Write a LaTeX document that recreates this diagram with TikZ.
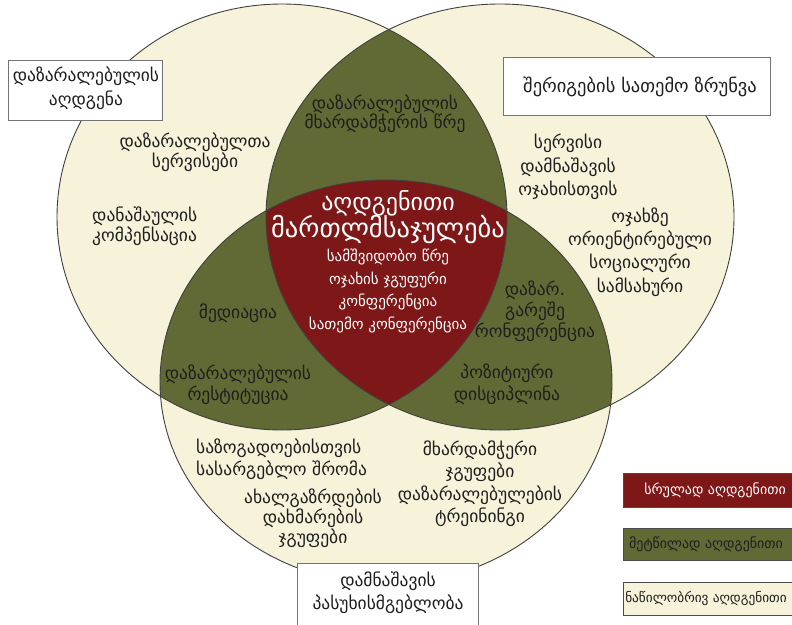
\documentclass[tikz,border=0pt]{standalone}
\usepackage{fontspec}
\setmainfont{DejaVu Sans}
\definecolor{cream}{HTML}{F6F3DA}
\definecolor{olive}{HTML}{616A34}
\definecolor{wine}{HTML}{7E1818}
\definecolor{ink}{HTML}{1E1E1E}
\begin{document}
\begin{tikzpicture}[x=1pt,y=-1pt,
  lbl/.style={font=\fontsize{17.5}{21}\selectfont, text=ink, align=center, inner sep=0pt},
  wlbl/.style={lbl, text=white},
  big/.style={text=white, align=center, inner sep=0pt},
  leg/.style={font=\fontsize{14}{16}\selectfont, inner sep=0pt},
  tbox/.style={draw=black!55, fill=white, line width=1pt},
  legbox/.style={draw=black!70, line width=1pt},
  outline/.style={draw=black!75, line width=0.9pt}]
\useasboundingbox (0,0) rectangle (792,624);
\clip (0,0) rectangle (792,624);
\fill[white] (0,0) rectangle (792,624);
% regions
\fill[cream] (282,217) ellipse [x radius=225pt, y radius=213pt];
\fill[cream] (500,217) ellipse [x radius=234pt, y radius=213pt];
\fill[cream] (386,382) ellipse [x radius=226pt, y radius=202pt];
\begin{scope}
  \clip (282,217) ellipse [x radius=225pt, y radius=213pt];
  \fill[olive] (500,217) ellipse [x radius=234pt, y radius=213pt];
\end{scope}
\begin{scope}
  \clip (282,217) ellipse [x radius=225pt, y radius=213pt];
  \fill[olive] (386,382) ellipse [x radius=226pt, y radius=202pt];
\end{scope}
\begin{scope}
  \clip (500,217) ellipse [x radius=234pt, y radius=213pt];
  \fill[olive] (386,382) ellipse [x radius=226pt, y radius=202pt];
\end{scope}
\begin{scope}
  \clip (282,217) ellipse [x radius=225pt, y radius=213pt];
  \clip (500,217) ellipse [x radius=234pt, y radius=213pt];
  \fill[wine] (386,382) ellipse [x radius=226pt, y radius=202pt];
\end{scope}
\draw[outline] (282,217) ellipse [x radius=225pt, y radius=213pt];
\draw[outline] (500,217) ellipse [x radius=234pt, y radius=213pt];
\draw[outline] (386,382) ellipse [x radius=226pt, y radius=202pt];
% boxes
\draw[tbox] (8,60) rectangle (162,120);
\node[lbl, font=\fontsize{17.5}{24}\selectfont] (boxL) at (86,88) {დაზარალებულის\\აღდგენა};
\draw[tbox] (503,57) rectangle (770,115);
\node[lbl, font=\fontsize{18.5}{21}\selectfont] (boxR) at (640,87) {შერიგების სათემო ზრუნვა};
\draw[tbox] (297,563) rectangle (478,640);
\node[lbl, font=\fontsize{17.5}{23}\selectfont] (boxB) at (388,593) {დამნაშავის\\პასუხისმგებლობა};
% centre
\node[big, font=\fontsize{24}{27}\selectfont] (c1) at (388,203) {აღდგენითი};
\node[big, font=\fontsize{26.5}{27}\selectfont] (c2) at (388,230) {მართლმსაჯულება};
\node[wlbl, font=\fontsize{15}{22.6}\selectfont] (c3) at (388,291) {სამშვიდობო წრე\\ოჯახის ჯგუფური\\კონფერენცია\\სათემო კონფერენცია};
% green
\node[lbl, font=\fontsize{17.5}{19}\selectfont] (g1) at (385,114) {დაზარალებულის\\მხარდამჭერის წრე};
\node[lbl] (g2) at (238,313) {მედიაცია};
\node[lbl] (g3) at (238,385) {დაზარალებულის\\რესტიტუცია};
\node[lbl] (g4) at (535,311) {დაზარ.\\გარეშე\\რონფერენცია};
\node[lbl, font=\fontsize{17.5}{22}\selectfont] (g5) at (507,384) {პოზიტიური\\დისციპლინა};
% cream
\node[lbl, font=\fontsize{17.5}{20}\selectfont] (y1) at (195,152) {დაზარალებულთა\\სერვისები};
\node[lbl, align=left, anchor=west, font=\fontsize{17.5}{18.5}\selectfont] (y2) at (92,226) {დანაშაულის\\კომპენსაცია};
\node[lbl, font=\fontsize{17.5}{23.5}\selectfont] (y3) at (568,167) {სერვისი\\დამნაშავის\\ოჯახისთვის};
\node[lbl, font=\fontsize{17.5}{23.3}\selectfont] (y4) at (640,252) {ოჯახზე\\ორიენტირებული\\სოციალური\\სამსახური};
\node[lbl, align=left, anchor=west, font=\fontsize{17.5}{22}\selectfont] (y5) at (196,459) {საზოგადოებისთვის\\სასარგებლო შრომა};
\node[lbl, font=\fontsize{17.5}{20}\selectfont] (y6) at (313,518) {ახალგაზრდების\\დახმარების\\ჯგუფები};
\node[lbl, font=\fontsize{17.5}{22}\selectfont] (y7) at (480,461) {მხარდამჭერი\\ჯგუფები};
\node[lbl, font=\fontsize{17.5}{22}\selectfont] (y8) at (480,506) {დაზარალებულების\\ტრეინინგი};
% legend
\draw[legbox, fill=wine] (623,473) rectangle (800,507);
\node[leg, text=white] (k1) at (715,490) {სრულად აღდგენითი};
\draw[legbox, fill=olive] (623,528) rectangle (800,560);
\node[leg, text=ink] (k2) at (706,544) {მეტწილად აღდგენითი};
\draw[legbox, fill=cream] (623,582) rectangle (800,615);
\node[leg, text=ink, font=\fontsize{13.3}{16}\selectfont] (k3) at (706,598) {ნაწილობრივ აღდგენითი};
\end{tikzpicture}
\end{document}
